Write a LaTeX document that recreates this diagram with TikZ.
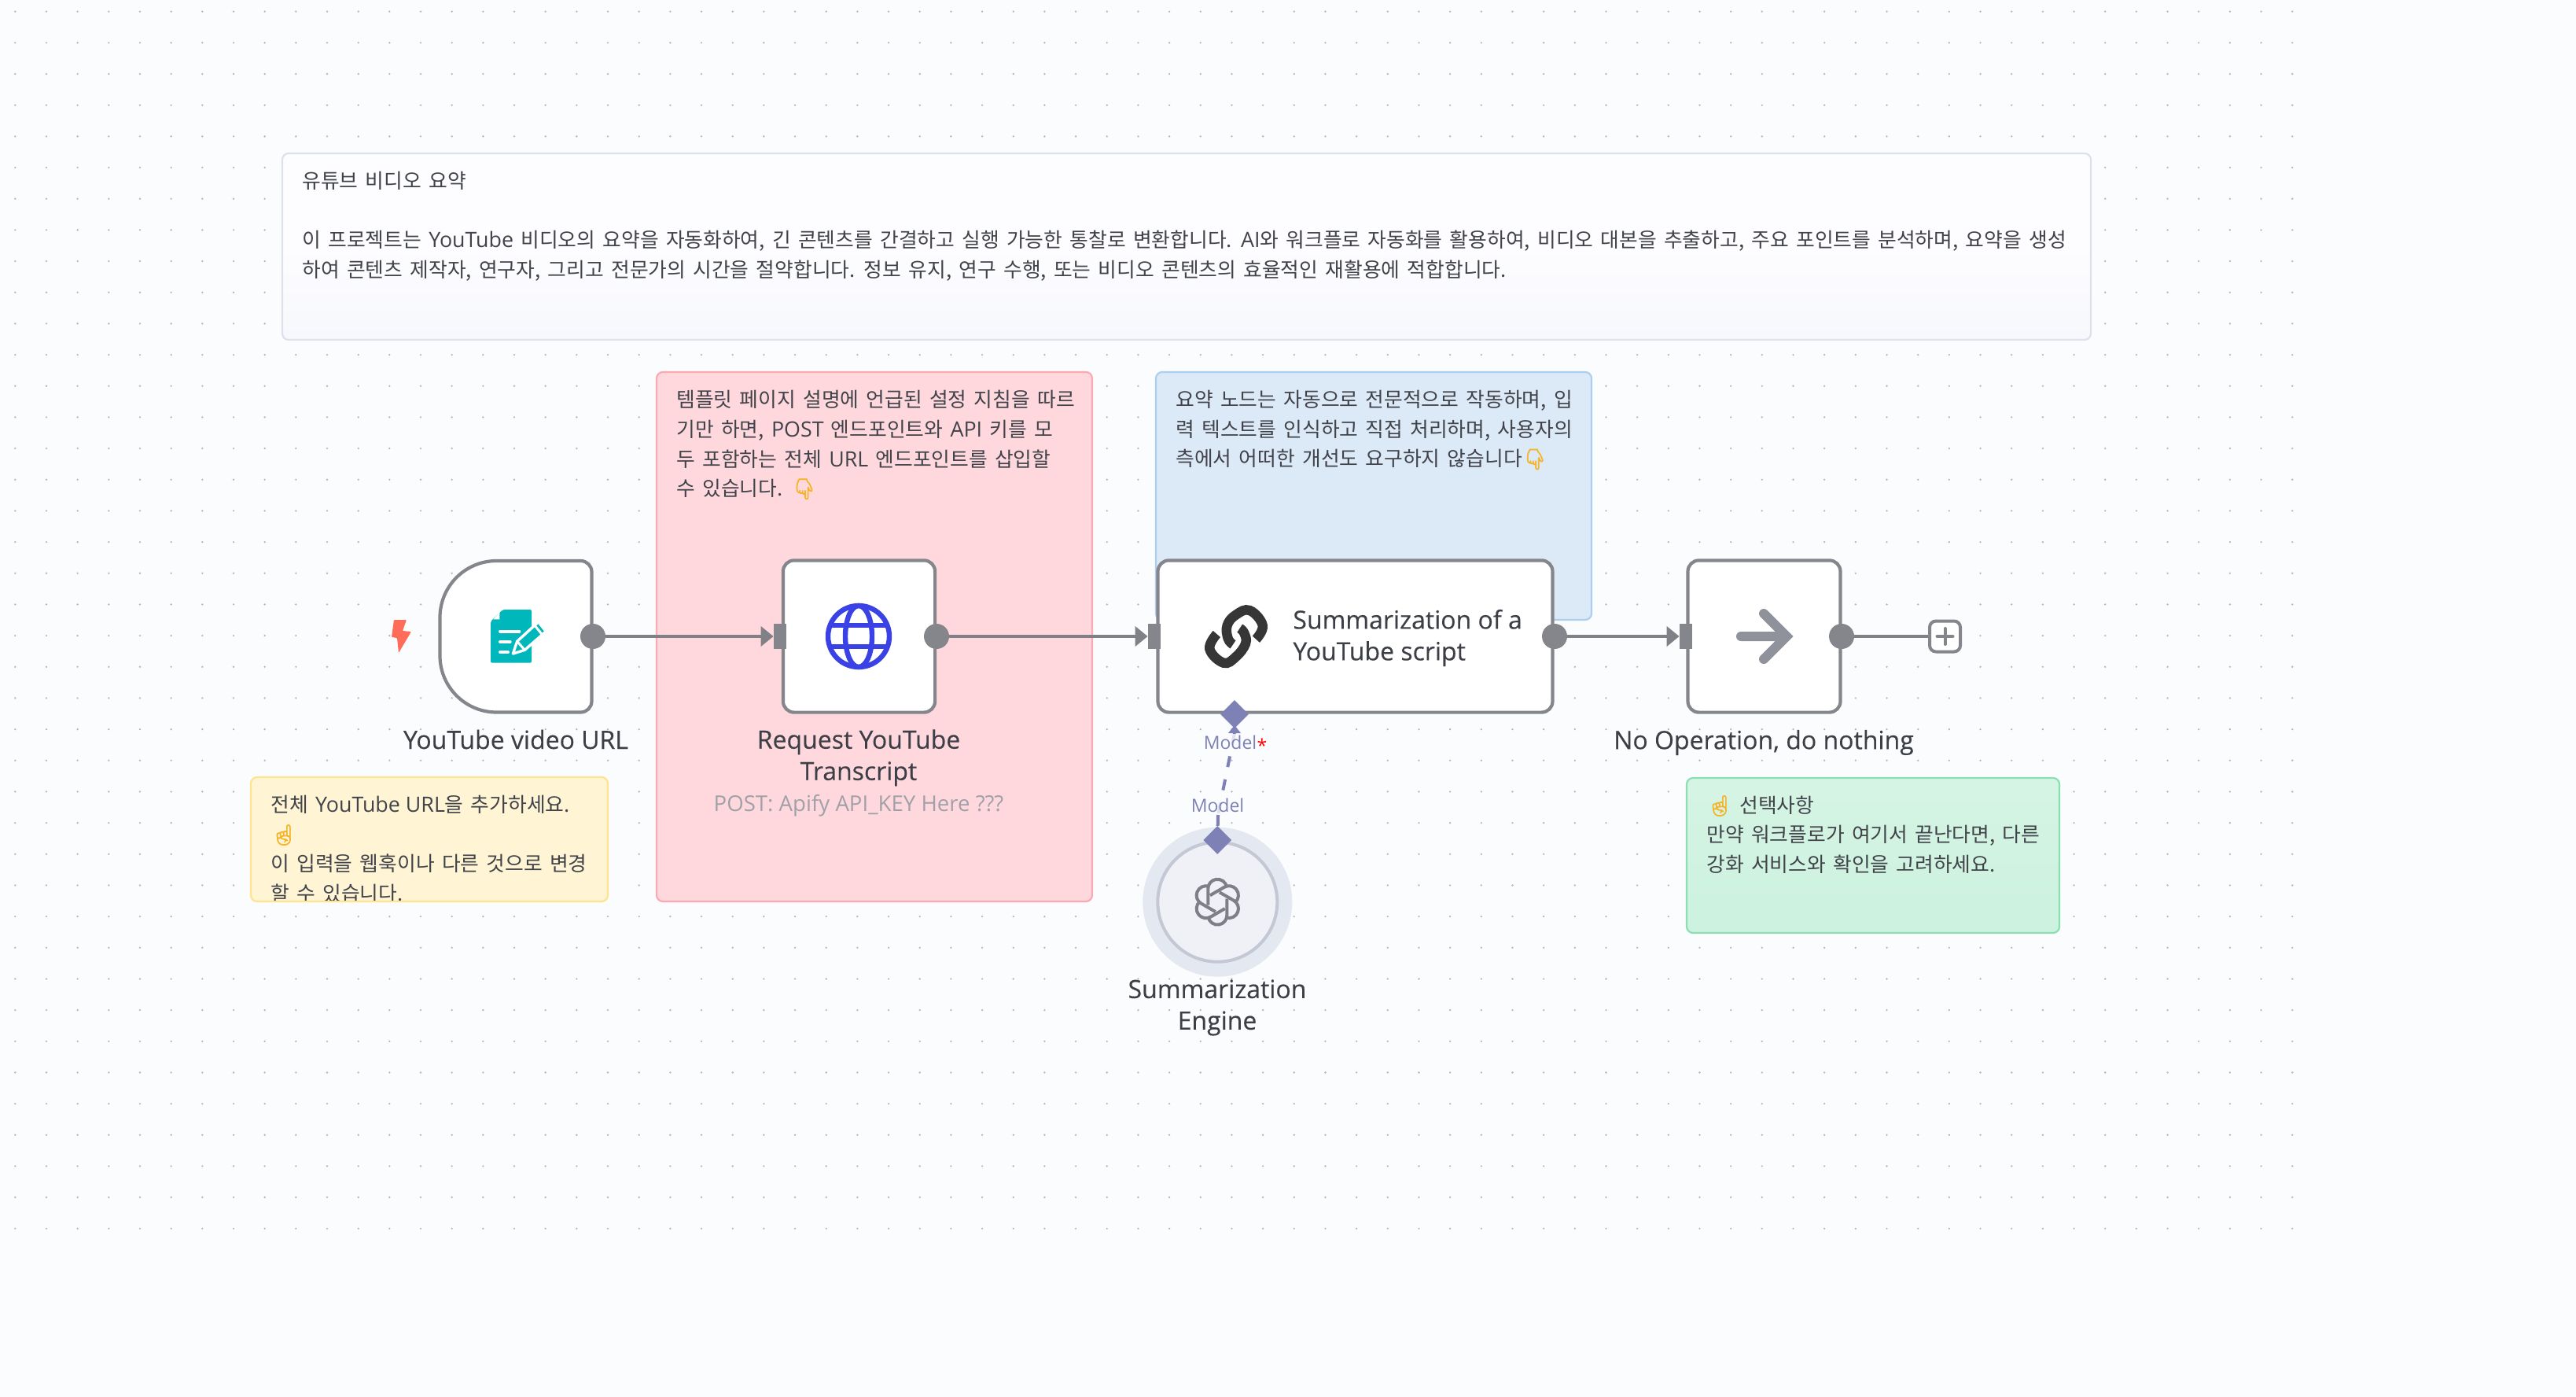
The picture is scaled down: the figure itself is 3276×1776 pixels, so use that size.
\documentclass[tikz,border=0pt]{standalone}
\usepackage{fontspec}
\usetikzlibrary{arrows.meta,shapes.geometric,calc}
\setmainfont{Open Sans}
\newfontfamily\kr[WordSpace=1.6]{Noto Sans CJK KR}
\newfontfamily\lat[Scale=1.04]{Open Sans}
\newfontfamily\emo[FakeBold=2.5]{Noto Emoji}
\newfontfamily\lblfont[FakeBold=0.25]{Open Sans}
\definecolor{bgc}{HTML}{FBFCFE}
\definecolor{dotc}{HTML}{B4B7BE}
\definecolor{txt}{HTML}{41434A}
\definecolor{lbl}{HTML}{3D3F46}
\definecolor{edge}{HTML}{85868C}
\definecolor{wire}{HTML}{808186}
\definecolor{pur}{HTML}{7D81B6}
\definecolor{emoc}{HTML}{F5B325}
\definecolor{topA}{HTML}{FDFDFF}
\definecolor{topB}{HTML}{F7F8FC}
\definecolor{topE}{HTML}{DDE1EC}
\definecolor{redF}{HTML}{FFD8DE}
\definecolor{redE}{HTML}{FBA9B3}
\definecolor{bluF}{HTML}{DCE9F7}
\definecolor{bluE}{HTML}{ABCFEF}
\definecolor{yelF}{HTML}{FFF4D4}
\definecolor{yelE}{HTML}{FFE38F}
\definecolor{grnA}{HTML}{D6F4E4}
\definecolor{grnB}{HTML}{CCF2DF}
\definecolor{grnE}{HTML}{8BE0B3}
\definecolor{tealc}{HTML}{00B8BC}
\definecolor{globec}{HTML}{3A42E6}
\definecolor{linkc}{HTML}{363636}
\definecolor{arrowc}{HTML}{8F929B}
\definecolor{boltc}{HTML}{FF6D5A}
\definecolor{haloc}{HTML}{E4E8F1}
\definecolor{discF}{HTML}{EFF1F6}
\definecolor{discE}{HTML}{C3C8D4}
\definecolor{knotc}{HTML}{7F8087}
\definecolor{subc}{HTML}{A0A1A8}
\newcommand{\hnd}[1]{\textcolor{emoc}{\emo #1}}
\newcommand{\firstl}{\rule{0pt}{10pt}}
\tikzset{
  notetext/.style={anchor=north west,inner sep=0pt,align=left,text=txt,font=\kr\fontsize{12.9}{18.8}\selectfont},
  nodelabel/.style={inner sep=0pt,align=center,text=lbl,font=\lblfont\fontsize{16}{20}\selectfont},
  notebox/.style={rounded corners=4pt,line width=1.1pt},
  flownode/.style={draw=edge,fill=white,line width=2.1pt},
  outport/.style={circle,fill=edge,inner sep=0pt,minimum size=16pt},
  inport/.style={rectangle,fill=edge,inner sep=0pt,minimum width=8pt,minimum height=16pt},
  conn/.style={draw=wire,line width=2pt,-{Triangle[length=8pt,width=12.5pt]}},
  subdiamond/.style={diamond,fill=pur,inner sep=0pt,minimum width=18pt,minimum height=18pt},
  portlabel/.style={inner sep=1pt,text=pur,fill=bgc,fill opacity=0.8,text opacity=1,font=\fontsize{11.5}{14}\selectfont},
}
\begin{document}
\begin{tikzpicture}[x=0.5pt,y=-0.5pt]
\useasboundingbox (0,0) rectangle (3276,1776);
\fill[bgc] (0,0) rectangle (3276,1776);
\fill[dotc] foreach \i in {0,...,73} { foreach \j in {0,...,39} {
  ({19.3+39.67*\i},{14.7+39.67*\j}) circle[radius=0.65pt] } };

% sticky notes
\draw[notebox,draw=topE,top color=topA,bottom color=topB,middle color=topA] (359,195) rectangle (2659,432);
\node[notetext] (topnote) at (384,218) {\firstl 유튜브 비디오 요약\\[18.8pt]
이 프로젝트는 {\lat YouTube} 비디오의 요약을 자동화하여, 긴 콘텐츠를 간결하고 실행 가능한 통찰로 변환합니다. {\lat AI}와 워크플로 자동화를 활용하여, 비디오 대본을 추출하고, 주요 포인트를 분석하며, 요약을 생성\\
하여 콘텐츠 제작자, 연구자, 그리고 전문가의 시간을 절약합니다. 정보 유지, 연구 수행, 또는 비디오 콘텐츠의 효율적인 재활용에 적합합니다.};

\draw[notebox,draw=redE,fill=redF] (835,473) rectangle (1389,1146);
\node[notetext] (rednote) at (860,496) {\firstl 템플릿 페이지 설명에 언급된 설정 지침을 따르\\
기만 하면, {\lat POST} 엔드포인트와 {\lat API} 키를 모\\
두 포함하는 전체 {\lat URL} 엔드포인트를 삽입할\\
수 있습니다. \hnd{👇}};

\draw[notebox,draw=bluE,fill=bluF] (1470,473) rectangle (2024,788);
\node[notetext] (bluenote) at (1495,496) {\firstl 요약 노드는 자동으로 전문적으로 작동하며, 입\\
력 텍스트를 인식하고 직접 처리하며, 사용자의\\
측에서 어떠한 개선도 요구하지 않습니다\hnd{👇}};

\draw[notebox,draw=yelE,fill=yelF] (319,988) rectangle (773,1146);
\begin{scope}
\clip (319,988) rectangle (773,1144);
\node[notetext] (yelnote) at (344,1011) {\firstl 전체 {\lat YouTube URL}을 추가하세요.\\
\hnd{☝}\\
이 입력을 웹훅이나 다른 것으로 변경\\
할 수 있습니다.};
\end{scope}

\draw[notebox,draw=grnE,top color=grnA,bottom color=grnB] (2145,989) rectangle (2619,1186);
\node[notetext] (grnnote) at (2170,1011) {\firstl \hnd{☝} 선택사항\\
만약 워크플로가 여기서 끝난다면, 다른\\
강화 서비스와 확인을 고려하세요.};

% flow nodes
\draw[flownode] (752.5,713) [rounded corners=7pt] -- (752.5,905.5) [rounded corners=36pt] -- (559.5,905.5) -- (559.5,713) [rounded corners=7pt] -- cycle;
\node[inner sep=0pt,minimum size=0pt] (trig) at (656,809) {};
\node[flownode,rectangle,rounded corners=7pt,inner sep=0pt,minimum width=96.6pt,minimum height=96.6pt] (http) at (1092.5,809) {};
\node[flownode,rectangle,rounded corners=7pt,inner sep=0pt,minimum width=251pt,minimum height=96.6pt] (summ) at (1723.5,809) {};
\node[flownode,rectangle,rounded corners=7pt,inner sep=0pt,minimum width=97pt,minimum height=96.6pt] (noop) at (2243.5,809) {};

% bolt
\fill[boltc,rounded corners=0.5pt] (501,788) -- (517,788) -- (512,802) -- (523,803) -- (507,830) -- (505,811) -- (498,810) -- cycle;

% form icon
\begin{scope}[shift={(590,750)},x=0.1667pt,y=-0.1667pt]
\fill[tealc,rounded corners=1pt] (148,75) -- (258,75) -- (258,278) -- (102,278) -- (102,120) -- cycle;
\fill[white] (136,85) -- (136,112) -- (112,112) -- cycle;
\draw[white,line width=2pt,line cap=round] (138,158) -- (211,158) (138,198) -- (176,198) (138,237) -- (168,237);
\draw[white,fill=tealc,line width=1.7pt,line join=round] (187,243) -- (203,196) -- (284,122) -- (313,158) -- (232,229) -- cycle;
\draw[white,line width=1.5pt] (270,135) -- (298,170) (203,196) -- (232,229);
\end{scope}

% globe
\begin{scope}[globec,line width=3.2pt]
\draw (1092,809) circle[radius=39];
\draw (1092,809) ellipse[x radius=17,y radius=39];
\draw (1056,795) -- (1128,795) (1056,822) -- (1128,822);
\end{scope}

% link icon
\begin{scope}[shift={(1490,740)},x=0.1667pt,y=-0.1667pt]
\draw[linkc,line width=6.2pt] plot[smooth,tension=0.7] coordinates {(322,218) (347,165) (298,108) (245,125) (212,165) (215,215) (234,238)};
\draw[linkc,line width=6.2pt] plot[smooth,tension=0.7] coordinates {(172,198) (145,255) (198,308) (245,285) (282,235) (277,195) (260,176)};
\end{scope}

% arrow icon
\draw[arrowc,line width=6pt,line cap=round,line join=miter] (2214,809) -- (2271,809) (2243,780) -- (2272,809) -- (2243,838);

% ports
\node[outport] (o1) at (754,809) {};
\node[outport] (o2) at (1191,809) {};
\node[outport] (o3) at (1977,809) {};
\node[outport] (o4) at (2342,809) {};
\node[inport] (i2) at (992,809) {};
\node[inport] (i3) at (1468,809) {};
\node[inport] (i4) at (2144,809) {};
\node[draw=edge,fill=white,line width=2pt,rounded corners=4pt,inner sep=0pt,minimum size=19.5pt] (plus) at (2473.5,809) {};
\draw[edge,line width=2pt,line cap=round] (2473.5,799) -- (2473.5,819) (2463.5,809) -- (2483.5,809);

\draw[conn] (o1) -- (i2);
\draw[conn] (o2) -- (i3);
\draw[conn] (o3) -- (i4);
\draw[draw=wire,line width=2pt] (o4) -- (plus);

% sub node
\fill[haloc] (1548.3,1146.7) circle[radius=95];
\node[circle,draw=discE,fill=discF,line width=2pt,inner sep=0pt,minimum size=76pt] (engine) at (1548.3,1146.7) {};
\begin{scope}[shift={(1548.3,1146.7)}]
\foreach \a in {0,60,...,300}
  \draw[knotc,line width=2pt,rotate=\a] (-11.8,19) arc[start angle=170,end angle=0,radius=12] -- (12,-4);
\end{scope}

% model link
\node[subdiamond] (dtop) at (1570,908) {};
\node[subdiamond] (dbot) at (1548.3,1068) {};
\fill[pur] (1562,932) -- (1578,932) -- (1570,922) -- cycle;
\coordinate (dmid) at (1570,932);
\coordinate (dend) at (1549,1036);
\draw[pur,line width=2pt,dash pattern=on 7pt off 8pt,dash phase=0pt] (dmid) -- (dend);
\draw[pur,line width=2pt] (dend) -- (dbot);
\node[portlabel] (lab1) at (1564.5,944) {Model};
\node[inner sep=0pt,text=red,font=\fontsize{11.5}{14}\selectfont] (star) at (1605,948) {*};
\node[portlabel] (lab2) at (1548.5,1024) {Model};

% node labels
\node[nodelabel] (t1) at (656,940) {YouTube video URL};
\node[nodelabel,anchor=north] (t2) at (1092,927) {Request YouTube\\Transcript};
\node[inner sep=0pt,text=subc,font=\fontsize{13.8}{16}\selectfont] (t2s) at (1092,1024) {POST: Apify API\_KEY Here ???};
\node[nodelabel,align=left,anchor=west] (t3) at (1644,811) {Summarization of a\\YouTube script};
\node[nodelabel] (t4) at (2243,944) {No Operation, do nothing};
\node[nodelabel,anchor=north] (t5) at (1548,1245) {Summarization\\Engine};
\end{tikzpicture}
\end{document}
